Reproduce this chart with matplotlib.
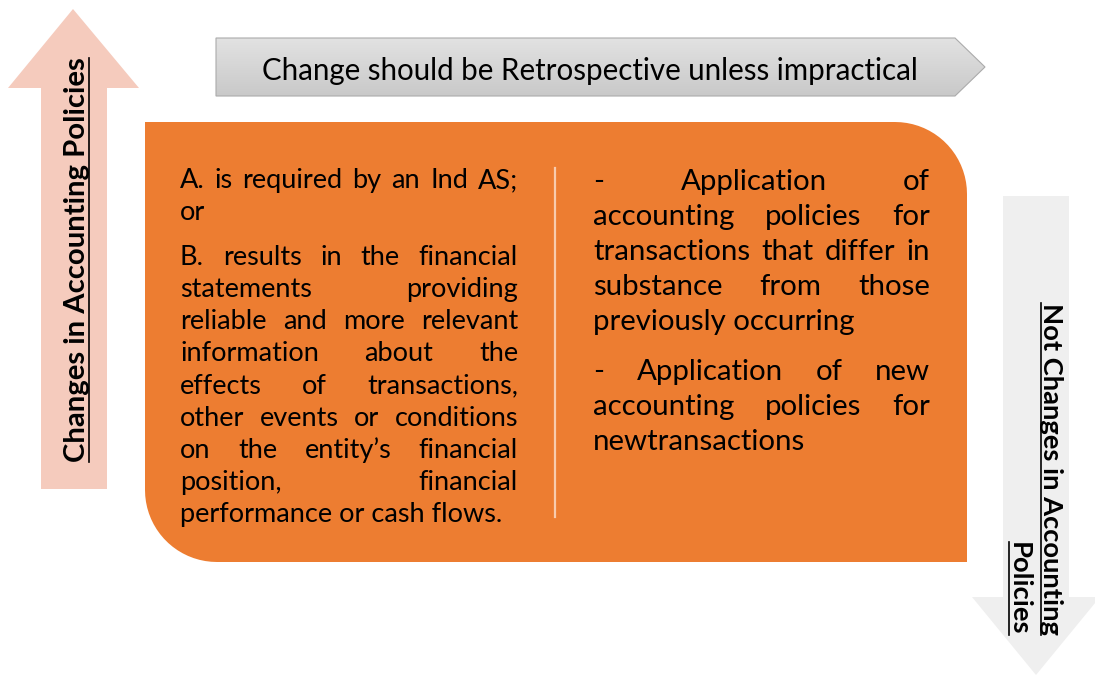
import numpy as np
import matplotlib.pyplot as plt
from matplotlib.path import Path
from matplotlib.patches import PathPatch, Polygon

# texts of the diagram
top_banner = "Change should be Retrospective unless impractical"
left_label = "Changes in Accounting Policies"
right_label = ["Not Changes in Accounting", "Policies"]

left_paras = [
    ["A. is required by an Ind AS;", "or"],
    ["B. results in the financial", "statements providing",
     "reliable and more relevant", "information about the",
     "effects of transactions,", "other events or conditions",
     "on the entity\u2019s financial", "position, financial",
     "performance or cash flows."],
]
right_paras = [
    ["- Application of", "accounting policies for",
     "transactions that differ in", "substance from those",
     "previously occurring"],
    ["- Application of new", "accounting policies for",
     "newtransactions"],
]

FONT = "Lato"
ORANGE = "#ED7D31"
PINK = "#F5CBBD"
LIGHT = "#EFEFEF"

fig = plt.figure(figsize=(10.95, 6.75), dpi=100)
ax = fig.add_axes([0, 0, 1, 1])
ax.set_xlim(0, 1095)
ax.set_ylim(675, 0)
ax.axis("off")
renderer = fig.canvas.get_renderer()


def text_width(s, fs, weight="normal"):
    t = ax.text(0, 0, s, fontsize=fs, family=FONT, weight=weight)
    w = t.get_window_extent(renderer).width
    t.remove()
    return w


def fit_size(s, target, weight="normal"):
    return 10 * target / text_width(s, 10, weight)


# left up arrow
ax.add_patch(Polygon([(41, 489), (41, 88), (8, 88), (73, 9), (139, 88),
                      (107, 88), (107, 489)], closed=True, fc=PINK, ec="none"))
# right down arrow
ax.add_patch(Polygon([(1003, 196), (1069, 196), (1069, 597), (1100, 597),
                      (1036, 675), (972, 597), (1003, 597)], closed=True,
                     fc=LIGHT, ec="none"))

# top banner (pentagon with a soft grey gradient)
banner = Polygon([(216, 38), (955, 38), (985, 67), (955, 96), (216, 96)],
                 closed=True, fc="none", ec="#ABABAB", lw=0.8, zorder=3)
ax.add_patch(banner)
grad = np.linspace(0, 1, 100).reshape(-1, 1)
im = ax.imshow(grad, extent=[216, 985, 96, 38], aspect="auto",
               cmap=plt.matplotlib.colors.LinearSegmentedColormap.from_list(
                   "g", ["#E2E2E2", "#C9C9C9"]), zorder=2)
im.set_clip_path(banner)
fs_top = fit_size(top_banner, 657)
ax.text(590, 71, top_banner, fontsize=fs_top, family=FONT, ha="center",
        va="center", color="black", zorder=4)

# orange box with two rounded corners
x0, x1, y0, y1, r = 145, 967, 122, 562, 72
a1 = np.linspace(-np.pi / 2, 0, 20)
a2 = np.linspace(np.pi / 2, np.pi, 20)
verts = [(x0, y0), (x1 - r, y0)]
verts += [(x1 - r + r * np.cos(a), y0 + r + r * np.sin(a)) for a in a1]
verts += [(x1, y1), (x0 + r, y1)]
verts += [(x0 + r + r * np.cos(a), y1 - r + r * np.sin(a)) for a in a2]
verts += [(x0, y0)]
ax.add_patch(PathPatch(Path(verts), fc=ORANGE, ec="none", zorder=1))
ax.plot([555, 555], [168, 517], color="#F8CBAD", lw=1.6, zorder=2)


def justified(paras, xl, xr, y_first, step, gap, fs):
    y = y_first
    for p in paras:
        for i, line in enumerate(p):
            words = line.split()
            last = i == len(p) - 1
            if last or len(words) == 1:
                ax.text(xl, y, line, fontsize=fs, family=FONT, ha="left",
                        va="baseline", zorder=3)
            else:
                ws = [text_width(w, fs) for w in words]
                sp = (xr - xl - sum(ws)) / (len(words) - 1)
                x = xl
                for w, wd in zip(words, ws):
                    ax.text(x, y, w, fontsize=fs, family=FONT, ha="left",
                            va="baseline", zorder=3)
                    x += wd + sp
            y += step
        y += gap


fs_left = fit_size("performance or cash flows.", 323)
justified(left_paras, 180, 518, 188, 32.1, 12.9, fs_left)
fs_right = fit_size("previously occurring", 262)
justified(right_paras, 593, 930, 190, 35, 15, fs_right)

# rotated, underlined labels
fs_lab = fit_size(left_label, 405, "bold")
t = ax.text(85, 260, left_label, fontsize=fs_lab, family=FONT, weight="bold",
            rotation=90, rotation_mode="anchor", ha="center", va="baseline",
            zorder=3)
L = t.get_window_extent(renderer).height
ax.plot([88.5, 88.5], [260 - L / 2, 260 + L / 2], color="black", lw=1.2, zorder=3)

fs_lab2 = fit_size(right_label[0], 333, "bold")
for xb, s in zip([1043, 1011], right_label):
    t = ax.text(xb, 635, s, fontsize=fs_lab2, family=FONT, weight="bold",
                rotation=-90, rotation_mode="anchor", ha="right", va="baseline",
                zorder=3)
    L = t.get_window_extent(renderer).height
    ax.plot([xb - 2.5, xb - 2.5], [635 - L, 635], color="black", lw=1.2, zorder=3)

fig.savefig("out.png", dpi=100)
